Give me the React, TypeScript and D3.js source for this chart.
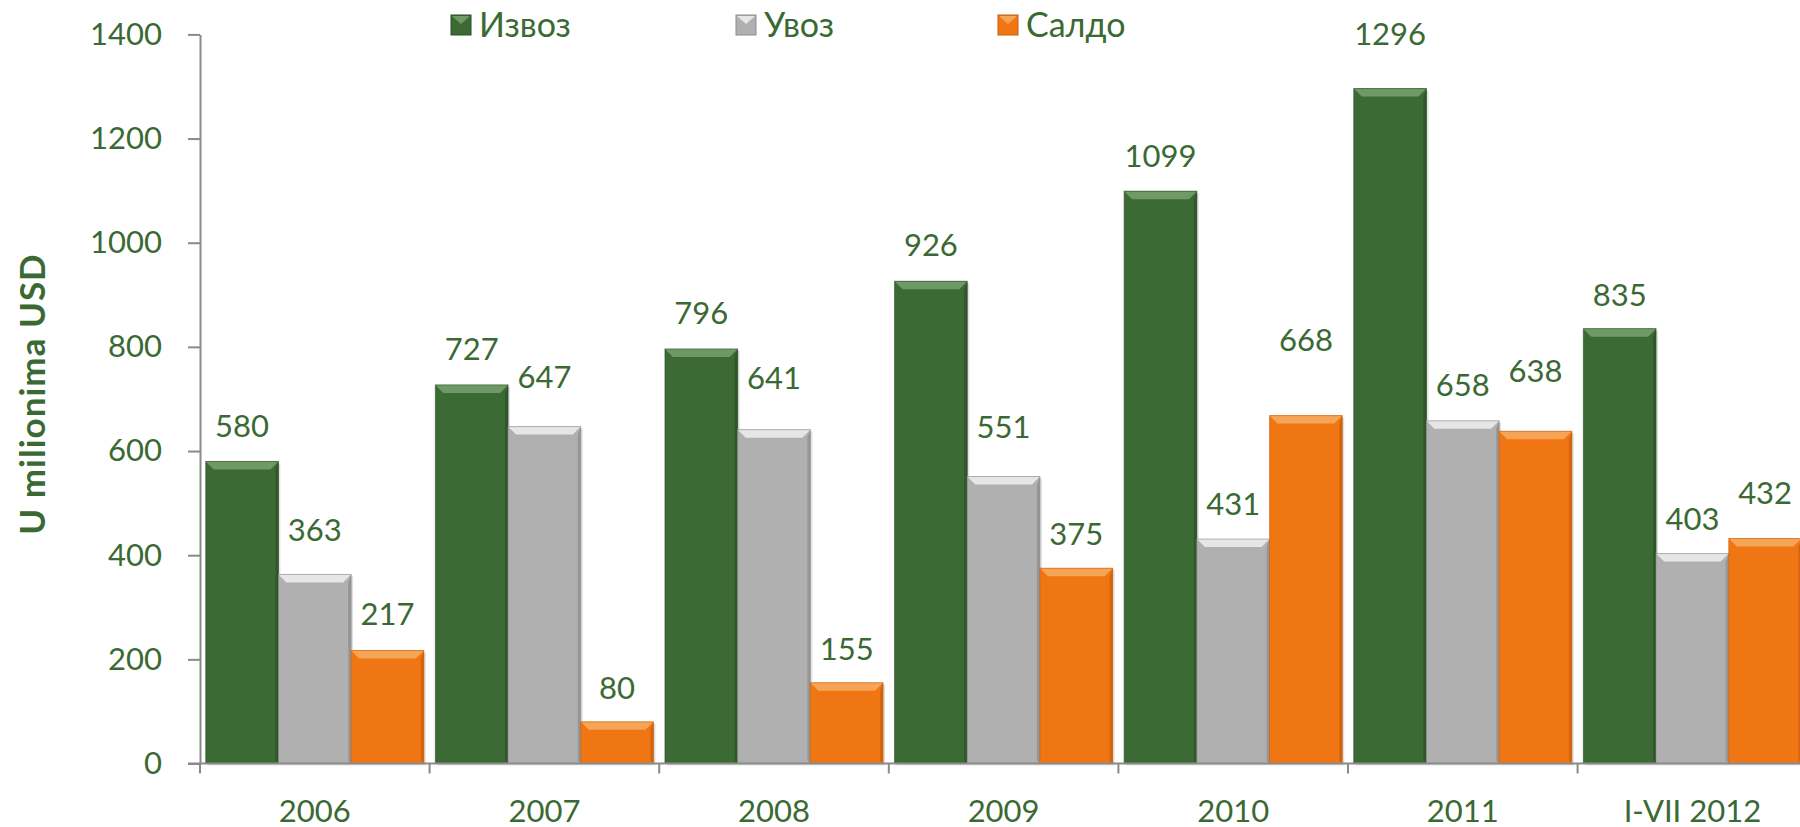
import { useEffect, useRef } from "react";
import * as d3 from "d3";

const categories = ["2006", "2007", "2008", "2009", "2010", "2011", "I-VII 2012"];
const izvoz = [580, 727, 796, 926, 1099, 1296, 835];
const uvoz = [363, 647, 641, 551, 431, 658, 403];
const saldo = [217, 80, 155, 375, 668, 638, 432];
const seriesNames = ["Извоз", "Увоз", "Салдо"];
const yTicks = [0, 200, 400, 600, 800, 1000, 1200, 1400];

// label lift above bar top (px), the source had some labels dragged by hand
const liftIzvoz = [35, 36, 36, 36, 35, 54, 33];
const liftUvoz = [44, 49, 52, 49, 35, 36, 34];
const liftSaldo = [36, 34, 34, 34, 75, 60, 45];

const colors = ["#3c6a35", "#b0b0b0", "#f07614"];
const light = ["#6f9a66", "#e6e6e6", "#f8a456"];
const dark = ["#2b4f26", "#8c8c8c", "#c55e0c"];
const textColor = "#3b6934";
const FONT = "Lato, 'Open Sans', sans-serif";

export default function App() {
    const ref = useRef<SVGSVGElement>(null);

    useEffect(() => {
        const svg = d3.select(ref.current);
        svg.selectAll("*").remove();

        const left = 200;
        const top = 34.4;
        const bottom = 763.5;
        const bandW = 229.6;

        const x = d3
            .scaleBand()
            .domain(categories)
            .range([left, left + bandW * categories.length])
            .paddingInner(0.05)
            .paddingOuter(0.025);
        const xs = d3.scaleBand().domain(["0", "1", "2"]).range([0, x.bandwidth()]);
        const y = d3.scaleLinear().domain([0, 1400]).range([bottom, top]);

        const all = [izvoz, uvoz, saldo];
        const lifts = [liftIzvoz, liftUvoz, liftSaldo];

        // y axis
        const yAxis = d3
            .axisLeft(y)
            .tickValues(yTicks)
            .tickFormat(d3.format("d"))
            .tickSize(12)
            .tickSizeOuter(0)
            .tickPadding(26);
        const gy = svg.append("g").attr("transform", `translate(${left},0)`).call(yAxis);
        gy.select(".domain").attr("stroke", "#8a8a8a").attr("stroke-width", 2);
        gy.selectAll(".tick line").attr("stroke", "#8a8a8a").attr("stroke-width", 2);
        gy.selectAll(".tick text")
            .attr("fill", textColor)
            .style("font-family", FONT)
            .style("font-size", "31px");

        // bars
        all.forEach((vals, s) => {
            const g = svg.append("g");
            vals.forEach((v, i) => {
                const bx = (x(categories[i]) as number) + (xs(String(s)) as number);
                const bw = xs.bandwidth();
                const by = y(v);
                const bh = bottom - by;
                const b = Math.min(8, bh / 2);
                g.append("rect")
                    .attr("x", bx + 2)
                    .attr("y", by + 2)
                    .attr("width", bw)
                    .attr("height", bh)
                    .attr("fill", "#000")
                    .attr("opacity", 0.12);
                g.append("rect")
                    .attr("x", bx)
                    .attr("y", by)
                    .attr("width", bw)
                    .attr("height", bh)
                    .attr("fill", colors[s]);
                g.append("path")
                    .attr("d", `M${bx},${by}L${bx + bw},${by}L${bx + bw - b},${by + b}L${bx + b},${by + b}Z`)
                    .attr("fill", light[s]);
                g.append("path")
                    .attr("d", `M${bx + bw},${by}L${bx + bw},${bottom}L${bx + bw - 3},${bottom - 3}L${bx + bw - 3},${by + b}Z`)
                    .attr("fill", dark[s])
                    .attr("opacity", 0.7);
                g.append("rect")
                    .attr("x", bx)
                    .attr("y", by)
                    .attr("width", bw)
                    .attr("height", bh)
                    .attr("fill", "none")
                    .attr("stroke", dark[s])
                    .attr("stroke-width", 1)
                    .attr("opacity", 0.6);
                g.append("text")
                    .attr("x", bx + bw / 2)
                    .attr("y", by - lifts[s][i])
                    .attr("dy", "0.35em")
                    .attr("text-anchor", "middle")
                    .attr("fill", textColor)
                    .style("font-family", FONT)
                    .style("font-size", "31px")
                    .text(v);
            });
        });

        // x axis
        const gx = svg.append("g").attr("transform", `translate(0,${bottom})`);
        gx.append("line")
            .attr("x1", left - 12)
            .attr("x2", 1800)
            .attr("stroke", "#8a8a8a")
            .attr("stroke-width", 2);
        d3.range(categories.length + 1).forEach((k) => {
            gx.append("line")
                .attr("x1", left + k * bandW)
                .attr("x2", left + k * bandW)
                .attr("y1", 0)
                .attr("y2", 10)
                .attr("stroke", "#8a8a8a")
                .attr("stroke-width", 2);
        });
        gx.selectAll("text.cat")
            .data(categories)
            .enter()
            .append("text")
            .attr("x", (d) => (x(d) as number) + x.bandwidth() / 2)
            .attr("y", 58)
            .attr("text-anchor", "middle")
            .attr("fill", textColor)
            .style("font-family", FONT)
            .style("font-size", "31px")
            .text((d) => d);

        // y title
        svg.append("text")
            .attr("transform", "translate(45,394) rotate(-90)")
            .attr("text-anchor", "middle")
            .attr("fill", textColor)
            .style("font-family", FONT)
            .style("font-size", "35px")
            .style("letter-spacing", "1px")
            .style("font-weight", "bold")
            .text("U milionima USD");

        // legend
        const legendX = [451, 736, 998];
        seriesNames.forEach((name, s) => {
            const lg = svg.append("g").attr("transform", `translate(${legendX[s]},15)`);
            lg.append("rect").attr("width", 20).attr("height", 20).attr("fill", colors[s]).attr("stroke", dark[s]);
            lg.append("path").attr("d", "M1,1L19,1L10,9Z").attr("fill", light[s]);
            lg.append("text")
                .attr("x", 28)
                .attr("y", 10)
                .attr("dy", "0.35em")
                .attr("fill", textColor)
                .style("font-family", FONT)
                .style("font-size", "34px")
                .text(name);
        });
    }, []);

    return (
        <svg
            ref={ref}
            width={1800}
            height={827}
            style={{ position: "absolute", left: 0, top: 0, background: "#fff" }}
        ></svg>
    );
}
